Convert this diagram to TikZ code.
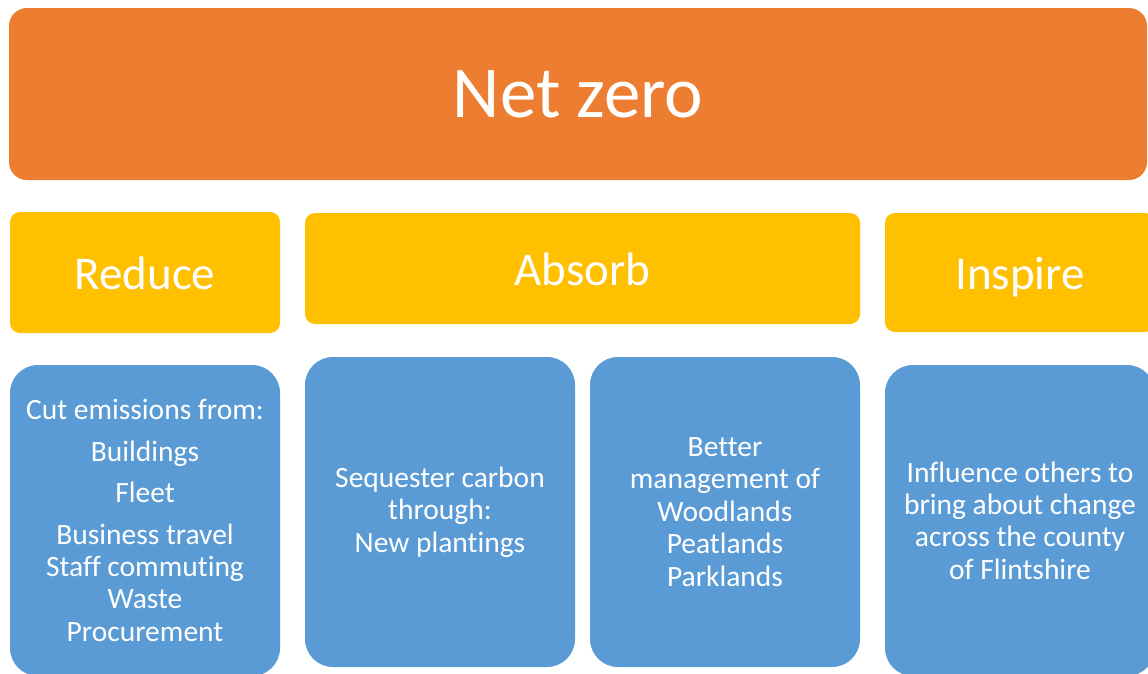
\documentclass[tikz,border=0pt]{standalone}
\usepackage{fontspec}
\setmainfont{Carlito}[Ligatures=NoCommon]
\usepackage{xcolor}
\usepackage{tikz}
\definecolor{goalfill}{HTML}{ED7D31}
\definecolor{headfill}{HTML}{FFC000}
\definecolor{itemfill}{HTML}{5B9BD5}
\tikzset{
  goalbox/.style={fill=goalfill, rounded corners=18pt, inner sep=0pt, outer sep=0pt,
    text=white, font=\fontsize{73}{80}\selectfont},
  headbox/.style={fill=headfill, rounded corners=10pt, inner sep=0pt, outer sep=0pt,
    text=white, text height=33pt, text depth=0pt, font=\fontsize{47}{56}\selectfont},
  itembox/.style={fill=itemfill, rounded corners=28pt, inner sep=0pt, outer sep=0pt,
    text=white, align=center, minimum width=270pt, font=\fontsize{29.5}{32.4}\selectfont}
}

\begin{document}
\begin{tikzpicture}[x=1pt, y=-1pt]
  \useasboundingbox (0,0) rectangle (1148,673);
  \fill[white] (0,0) rectangle (1148,673);
  \clip (0,0) rectangle (1148,673);

  % goal
  \node[goalbox, minimum width=1138pt, minimum height=172pt] (goal) at (578,94) {Net zero};

  % headings
  \node[headbox, minimum width=270pt, minimum height=121pt] (reduce) at (145,272.5) {Reduce};
  \node[headbox, minimum width=555pt, minimum height=111pt] (absorb) at (582.5,268.5) {Absorb};
  \node[headbox, minimum width=270pt, minimum height=119pt] (inspire) at (1020,272.5) {Inspire};

  % actions
  \node[itembox, minimum height=311pt] (cut) at (145,520.5)
    {Cut emissions from:\\[9pt]Buildings\\[9pt]Fleet\\[9pt]Business travel\\Staff commuting\\Waste\\Procurement};
  \node[itembox, minimum height=310pt] (plant) at (440,512)
    {Sequester carbon\\through:\\New plantings};
  \node[itembox, minimum height=310pt] (manage) at (725,512)
    {Better\\management of\\Woodlands\\Peatlands\\Parklands};
  \node[itembox, minimum height=311pt] (influence) at (1020,520.5)
    {Influence others to\\bring about change\\across the county\\of Flintshire};
\end{tikzpicture}
\end{document}
